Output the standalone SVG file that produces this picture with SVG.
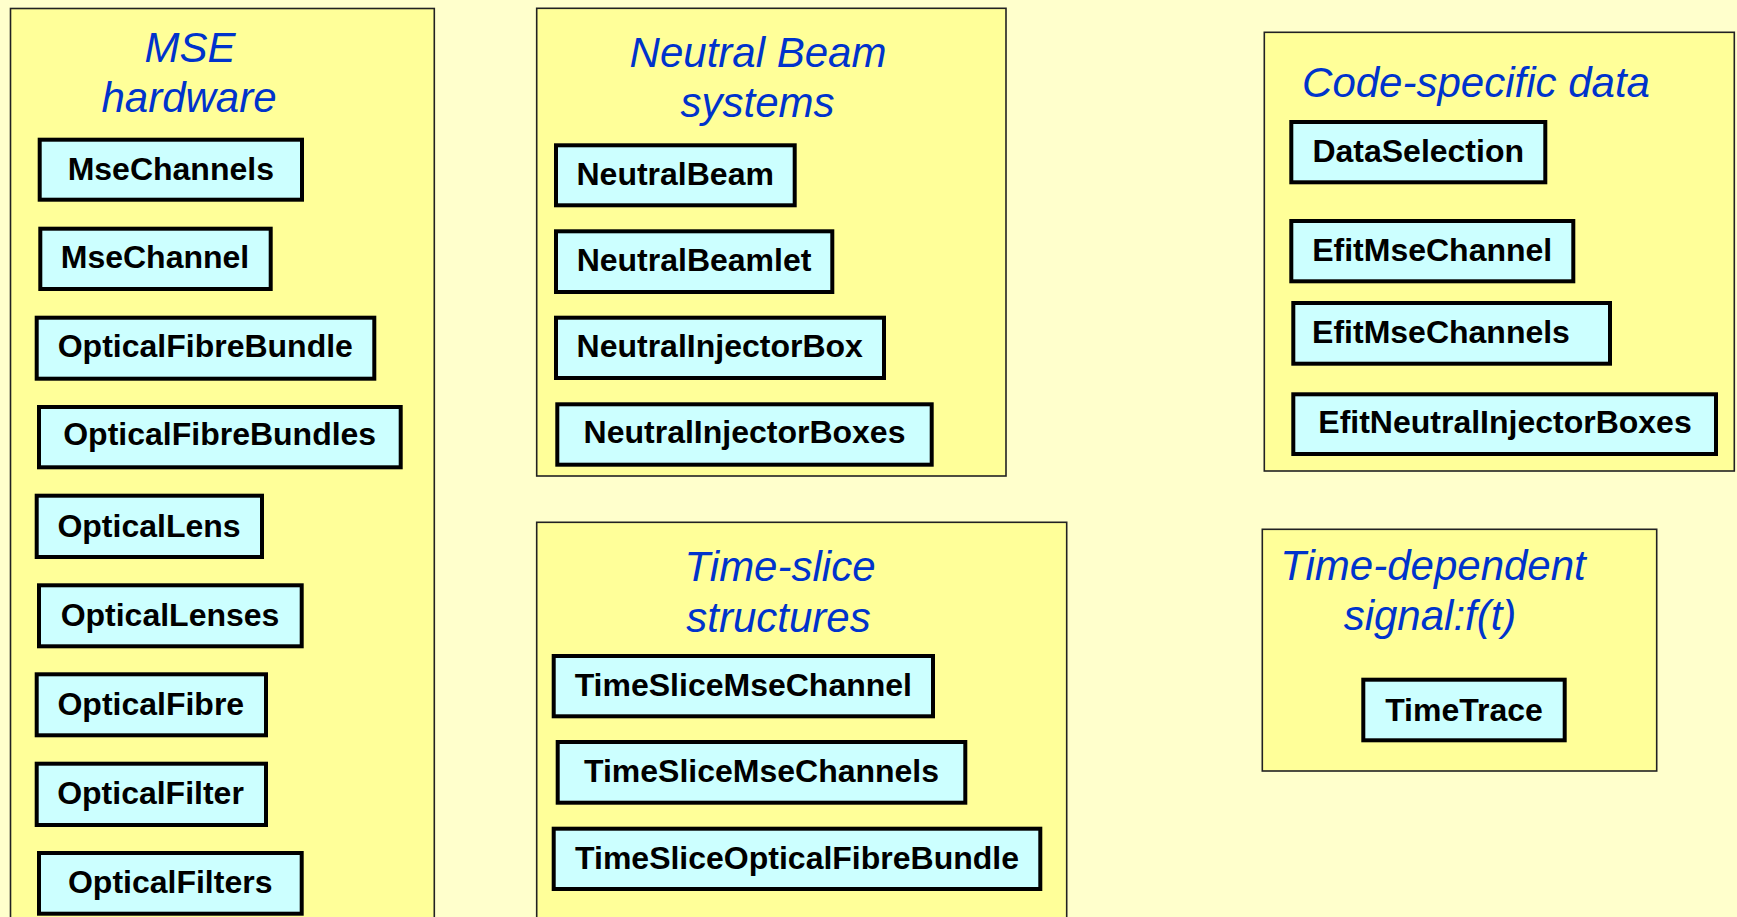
<svg xmlns="http://www.w3.org/2000/svg" width="1737" height="917" viewBox="0 0 1737 917">
<style>
.bg{fill:#FFFFCC}
.panel{fill:#FFFF99;stroke:#222222;stroke-width:1.6}
.box{fill:#CCFFFF;stroke:#000000;stroke-width:4}
.title{font-family:"Liberation Sans",Arial,sans-serif;font-style:italic;font-size:42px;fill:#0033CC;text-anchor:middle}
.lbl{font-family:"Liberation Sans",Arial,sans-serif;font-weight:bold;font-size:32px;fill:#000000;text-anchor:middle}
</style>
<rect class="bg" x="0" y="0" width="1737" height="917"/>
<g id="connectors"></g>
<g id="panel-mse">
<rect class="panel" x="10.5" y="8.5" width="423.8" height="930"/>
<text class="title" x="190" y="62">MSE</text>
<text class="title" x="189" y="111.7">hardware</text>
</g>
<g id="node-MseChannels"><rect class="box" x="39.7" y="139.7" width="262.3" height="60"/><text class="lbl" x="170.8" y="180">MseChannels</text></g>
<g id="node-MseChannel"><rect class="box" x="40.3" y="228.7" width="230.4" height="60.3"/><text class="lbl" x="155" y="268.3">MseChannel</text></g>
<g id="node-OpticalFibreBundle"><rect class="box" x="36.7" y="317.7" width="337.6" height="61"/><text class="lbl" x="205.3" y="357.3">OpticalFibreBundle</text></g>
<g id="node-OpticalFibreBundles"><rect class="box" x="39" y="407" width="361.7" height="60.3"/><text class="lbl" x="219.7" y="445">OpticalFibreBundles</text></g>
<g id="node-OpticalLens"><rect class="box" x="36.7" y="495.7" width="225.3" height="61.3"/><text class="lbl" x="149" y="536.7">OpticalLens</text></g>
<g id="node-OpticalLenses"><rect class="box" x="39" y="585.3" width="262.7" height="61"/><text class="lbl" x="170" y="625.7">OpticalLenses</text></g>
<g id="node-OpticalFibre"><rect class="box" x="36.7" y="674.3" width="229.3" height="61"/><text class="lbl" x="150.8" y="715">OpticalFibre</text></g>
<g id="node-OpticalFilter"><rect class="box" x="36.7" y="763.7" width="229.3" height="61.3"/><text class="lbl" x="150.5" y="804.3">OpticalFilter</text></g>
<g id="node-OpticalFilters"><rect class="box" x="39" y="853" width="262.7" height="60.7"/><text class="lbl" x="170.2" y="893.3">OpticalFilters</text></g>

<g id="panel-nb">
<rect class="panel" x="536.7" y="8.3" width="469.3" height="467.7"/>
<text class="title" x="758" y="66.7">Neutral Beam</text>
<text class="title" x="757.5" y="117.3">systems</text>
</g>
<g id="node-NeutralBeam"><rect class="box" x="556" y="145.3" width="238.7" height="60"/><text class="lbl" x="675.2" y="185">NeutralBeam</text></g>
<g id="node-NeutralBeamlet"><rect class="box" x="556" y="231.3" width="276.3" height="60.7"/><text class="lbl" x="694" y="270.7">NeutralBeamlet</text></g>
<g id="node-NeutralInjectorBox"><rect class="box" x="556" y="317.7" width="328" height="60.3"/><text class="lbl" x="719.7" y="357.3">NeutralInjectorBox</text></g>
<g id="node-NeutralInjectorBoxes"><rect class="box" x="557.3" y="404.3" width="374.4" height="60.4"/><text class="lbl" x="744.5" y="443.3">NeutralInjectorBoxes</text></g>

<g id="panel-ts">
<rect class="panel" x="536.7" y="522.3" width="530" height="420"/>
<text class="title" x="780" y="581">Time-slice</text>
<text class="title" x="778.5" y="631.7">structures</text>
</g>
<g id="node-TimeSliceMseChannel"><rect class="box" x="553.7" y="656" width="379.3" height="60.3"/><text class="lbl" x="743.3" y="695.7">TimeSliceMseChannel</text></g>
<g id="node-TimeSliceMseChannels"><rect class="box" x="557.7" y="742" width="407.6" height="60.7"/><text class="lbl" x="761.5" y="781.7">TimeSliceMseChannels</text></g>
<g id="node-TimeSliceOpticalFibreBundle"><rect class="box" x="553.7" y="828.7" width="486.6" height="60.3"/><text class="lbl" x="797" y="869.3">TimeSliceOpticalFibreBundle</text></g>

<g id="panel-code">
<rect class="panel" x="1264.3" y="32.3" width="470" height="438.7"/>
<text class="title" x="1476" y="96.7">Code-specific data</text>
</g>
<g id="node-DataSelection"><rect class="box" x="1291.3" y="122" width="254" height="60.3"/><text class="lbl" x="1418.2" y="161.7">DataSelection</text></g>
<g id="node-EfitMseChannel"><rect class="box" x="1291.3" y="221" width="282" height="60.3"/><text class="lbl" x="1432.2" y="260.7">EfitMseChannel</text></g>
<g id="node-EfitMseChannels"><rect class="box" x="1293.3" y="303" width="316.7" height="60.7"/><text class="lbl" x="1441" y="343.3">EfitMseChannels</text></g>
<g id="node-EfitNeutralInjectorBoxes"><rect class="box" x="1293.3" y="394.3" width="422.7" height="59.7"/><text class="lbl" x="1505" y="433.3">EfitNeutralInjectorBoxes</text></g>

<g id="panel-td">
<rect class="panel" x="1262.3" y="529.3" width="394.4" height="241.7"/>
<text class="title" x="1433" y="580">Time-dependent</text>
<text class="title" x="1430" y="630">signal:f(t)</text>
</g>
<g id="node-TimeTrace"><rect class="box" x="1363.3" y="679.7" width="201.4" height="60.6"/><text class="lbl" x="1464" y="721">TimeTrace</text></g>
</svg>
